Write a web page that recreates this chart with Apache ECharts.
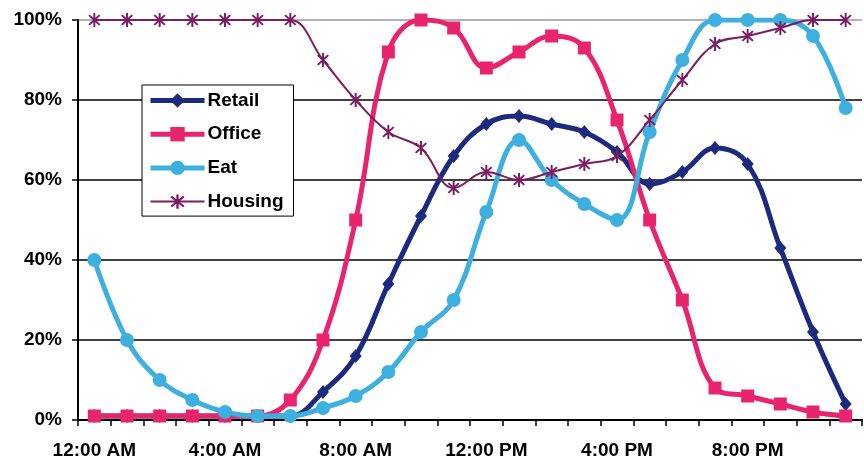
<!DOCTYPE html>
<html>
<head>
<meta charset="utf-8">
<script src="https://cdn.jsdelivr.net/npm/echarts@6/dist/echarts.min.js"></script>
<style>html,body{margin:0;padding:0;background:#fff}#c{width:864px;height:461px}</style>
</head>
<body>
<div id="c"></div>
<script>
const hours = ["12:00 AM","1:00 AM","2:00 AM","3:00 AM","4:00 AM","5:00 AM","6:00 AM","7:00 AM","8:00 AM","9:00 AM","10:00 AM","11:00 AM",
  "12:00 PM","1:00 PM","2:00 PM","3:00 PM","4:00 PM","5:00 PM","6:00 PM","7:00 PM","8:00 PM","9:00 PM","10:00 PM","11:00 PM"];
const retail  = [1,1,1,1,1,1,1,7,16,34,51,66,74,76,74,72,67,59,62,68,64,43,22,4];
const office  = [1,1,1,1,1,1,5,20,50,92,100,98,88,92,96,93,75,50,30,8,6,4,2,1];
const eat     = [40,20,10,5,2,1,1,3,6,12,22,30,52,70,60,54,50,72,90,100,100,100,96,78];
const housing = [100,100,100,100,100,100,100,90,80,72,68,58,62,60,62,64,66,75,85,94,96,98,100,100];
const yTicks = [0,20,40,60,80,100];

const FONT = 'Arial, "Liberation Sans", sans-serif';
const star = 'path://M-1.3,-10L1.3,-10L1.3,10L-1.3,10Z M8.0,6.1L6.1,8.0L-8.0,-6.1L-6.1,-8.0Z M6.1,-8.0L8.0,-6.1L-6.1,8.0L-8.0,6.1Z';

const C = {retail: '#1b2a7c', office: '#e8246f', eat: '#3eb0e0', housing: '#7b1d62'};

const chart = echarts.init(document.getElementById('c'));
chart.setOption({
  animation: false,
  backgroundColor: '#fff',
  grid: {left: 78, right: 2, top: 20, bottom: 41, containLabel: false},
  legend: {
    orient: 'vertical', left: 142, top: 85,
    backgroundColor: '#fff', borderColor: '#000', borderWidth: 1,
    padding: [6, 10, 5, 6], itemGap: 14.7, itemWidth: 54, itemHeight: 18,
    selectedMode: false,
    textStyle: {fontFamily: FONT, fontWeight: 'bold', fontSize: 19, color: '#000', lineHeight: 18, padding: [0,0,0,-2]},
    data: [
      {name: 'Retail', lineStyle: {width: 5}},
      {name: 'Office', lineStyle: {width: 5}},
      {name: 'Eat', lineStyle: {width: 5}},
      {name: 'Housing', lineStyle: {width: 2}}
    ]
  },
  xAxis: {
    type: 'category', data: hours, boundaryGap: true,
    axisLine: {lineStyle: {color: '#000', width: 2}},
    axisTick: {show: true, interval: 0, length: 6, lineStyle: {color: '#000', width: 1.5}},
    axisLabel: {interval: 3, fontFamily: FONT, fontWeight: 'bold', fontSize: 19, color: '#000', margin: 21},
    splitLine: {show: false}
  },
  yAxis: {
    type: 'value', min: yTicks[0], max: yTicks[yTicks.length-1], interval: 20,
    axisLine: {show: true, lineStyle: {color: '#000', width: 2}},
    axisTick: {show: true, length: 6, lineStyle: {color: '#000', width: 1.5}},
    axisLabel: {formatter: '{value}%', fontFamily: FONT, fontWeight: 'bold', fontSize: 19, color: '#000', margin: 16},
    splitLine: {show: true, lineStyle: {color: ['#000','#000','#000','#000','#000','#999'], width: 1.5}}
  },
  series: [
    {name: 'Retail', type: 'line', data: retail, smooth: 0.4,
     symbol: 'diamond', symbolSize: [12, 14], showAllSymbol: true,
     lineStyle: {color: C.retail, width: 5}, itemStyle: {color: C.retail}},
    {name: 'Office', type: 'line', data: office, smooth: 0.4,
     symbol: 'rect', symbolSize: 13, showAllSymbol: true,
     lineStyle: {color: C.office, width: 5}, itemStyle: {color: C.office}},
    {name: 'Eat', type: 'line', data: eat, smooth: 0.4,
     symbol: 'circle', symbolSize: 14, showAllSymbol: true,
     lineStyle: {color: C.eat, width: 5}, itemStyle: {color: C.eat}},
    {name: 'Housing', type: 'line', data: housing, smooth: 0.4,
     symbol: star, symbolSize: [12, 14], showAllSymbol: true,
     lineStyle: {color: C.housing, width: 2}, itemStyle: {color: C.housing}}
  ]
});
</script>
</body>
</html>
